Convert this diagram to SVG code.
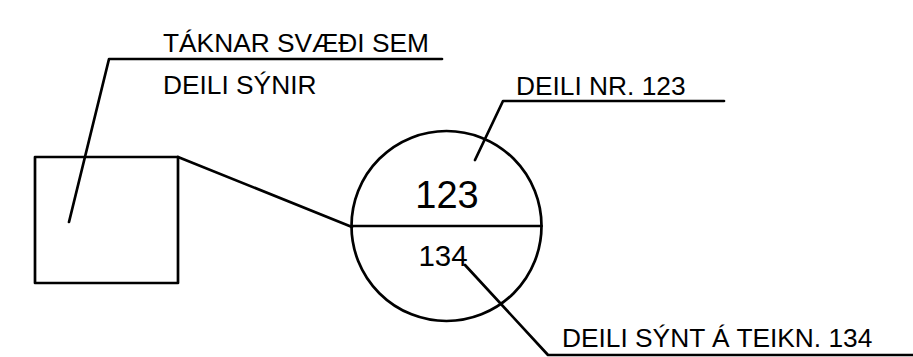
<svg xmlns="http://www.w3.org/2000/svg" width="913" height="357" viewBox="0 0 913 357">
<style>
.ln{stroke:#000;stroke-width:2.7;fill:none;stroke-linecap:round;stroke-linejoin:round}
.lb{font-family:"Liberation Sans",Arial,sans-serif;font-size:26.3px;fill:#000}
.num{font-family:"Liberation Sans",Arial,sans-serif;fill:#000;text-anchor:middle}
</style>
<rect width="913" height="357" fill="#fff"/>
<g id="area">
<rect class="ln" x="35" y="157" width="143" height="126"/>
</g>
<g id="parcel">
<circle class="ln" cx="446.5" cy="226" r="95"/>
<line class="ln" x1="351.5" y1="226" x2="541.5" y2="226"/>
<text class="num" x="447" y="208" font-size="38">123</text>
<text class="num" x="443" y="266" font-size="29.5">134</text>
</g>
<g id="label-area">
<text class="lb" x="163" y="52">TÁKNAR SVÆÐI SEM</text>
<text class="lb" x="163" y="94">DEILI SÝNIR</text>
</g>
<g id="label-parcel">
<text class="lb" x="516" y="95">DEILI NR. 123</text>
</g>
<g id="label-sheet">
<text class="lb" x="562" y="347">DEILI SÝNT Á TEIKN. 134</text>
</g>
<g id="connectors">
<polyline class="ln" points="442,59 109,59 69,222"/>
<line class="ln" x1="178" y1="157" x2="352" y2="227"/>
<polyline class="ln" points="724,101 503,101 475,160"/>
<polyline class="ln" points="465,265 548,355 913,355"/>
</g>
</svg>
